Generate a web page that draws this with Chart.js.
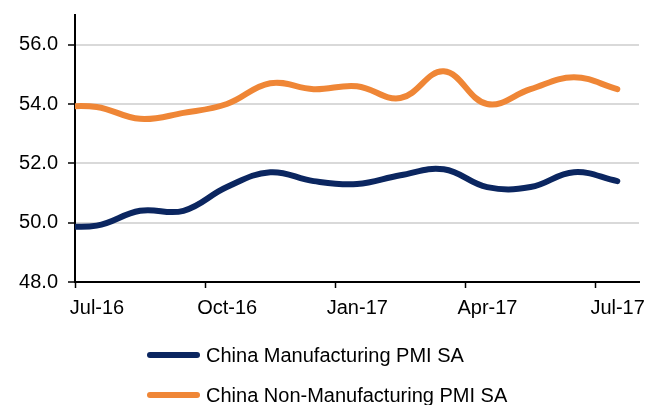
<!DOCTYPE html>
<html>
<head>
<meta charset="utf-8">
<script src="https://cdn.jsdelivr.net/npm/chart.js@4"></script>
<style>
  body { margin: 0; background: #fff; }
  #wrap { position: relative; width: 659px; height: 405px; overflow: hidden; }
  #legend { position: absolute; left: 147px; top: 335px; font: 20px "Liberation Sans", Arial, sans-serif; color: #000; }
  .item { display: flex; align-items: center; height: 40px; white-space: nowrap; }
  .swatch { width: 53px; height: 6px; border-radius: 3px; margin-right: 6px; }
</style>
</head>
<body>
<div id="wrap">
  <canvas id="chart" width="659" height="405"></canvas>
  <div id="legend"></div>
</div>
<script>
// Jun-16 is only visible as the short stub at the left edge of the plot
const months = ["Jun-16", "Jul-16", "Aug-16", "Sep-16", "Oct-16", "Nov-16", "Dec-16",
                "Jan-17", "Feb-17", "Mar-17", "Apr-17", "May-17", "Jun-17", "Jul-17"];
const manufacturing = [49.9, 49.9, 50.4, 50.4, 51.2, 51.7, 51.4, 51.3, 51.6, 51.8, 51.2, 51.2, 51.7, 51.4];
const nonManufacturing = [53.9, 53.9, 53.5, 53.7, 54.0, 54.7, 54.5, 54.6, 54.2, 55.1, 54.0, 54.5, 54.9, 54.5];
const xTickLabels = ["Jul-16", "Oct-16", "Jan-17", "Apr-17", "Jul-17"];
const yTicks = [48, 50, 52, 54, 56];

const seriesNames = ["China Manufacturing PMI SA", "China Non-Manufacturing PMI SA"];
const seriesColors = ["#0b2660", "#ef8636"];

const font = { family: "'Liberation Sans', Arial, sans-serif", size: 20 };

function points(values) {
    return values.map((v, i) => ({ x: i, y: v }));
}

const datasets = [manufacturing, nonManufacturing].map((vals, k) => ({
    label: seriesNames[k],
    data: points(vals),
    borderColor: seriesColors[k],
    backgroundColor: seriesColors[k],
    borderWidth: 6,
    borderCapStyle: "round",
    tension: 0.4,
    pointRadius: 0,
    clip: { left: 0, top: 10, right: 10, bottom: 10 }
}));

new Chart(document.getElementById("chart"), {
    type: "line",
    data: { datasets: datasets },
    options: {
        responsive: false,
        animation: false,
        layout: { padding: { left: 0, top: 15, right: 20, bottom: 83 } },
        plugins: { legend: { display: false }, tooltip: { enabled: false } },
        scales: {
            x: {
                type: "linear",
                min: 0.5,
                max: months.length - 0.5,
                afterBuildTicks: (scale) => {
                    // tick marks sit on the month boundaries, labels under the month
                    scale.ticks = xTickLabels.map(l => ({ value: months.indexOf(l) - 0.5 }));
                },
                afterFit: (scale) => {
                    scale.height = 40;
                    scale.paddingLeft = 0;
                    scale.paddingRight = 0;
                },
                border: { color: "#000", width: 2 },
                grid: { drawOnChartArea: false, tickLength: 6, tickColor: "#000", tickWidth: 1.5 },
                ticks: {
                    font: font,
                    color: "#000",
                    padding: 8,
                    maxRotation: 0,
                    labelOffset: 22,
                    callback: (v) => months[v + 0.5]
                }
            },
            y: {
                min: 48,
                max: 57,
                afterBuildTicks: (scale) => {
                    scale.ticks = yTicks.map(v => ({ value: v }));
                },
                afterFit: (scale) => {
                    scale.width = 75;
                    scale.paddingTop = 0;
                    scale.paddingBottom = 0;
                },
                border: { color: "#000", width: 2 },
                grid: {
                    color: (ctx) => ctx.tick && ctx.tick.value === 48 ? "rgba(0,0,0,0)" : "#d9d9d9",
                    lineWidth: 2,
                    tickLength: 7,
                    tickColor: "#000",
                    tickWidth: 1.5
                },
                ticks: {
                    font: font,
                    color: "#000",
                    padding: 10,
                    callback: (v) => v.toFixed(1)
                }
            }
        }
    }
});

// legend: two rows, left aligned, as in the original
const legend = document.getElementById("legend");
seriesNames.forEach((name, k) => {
    const item = document.createElement("div");
    item.className = "item";
    const sw = document.createElement("span");
    sw.className = "swatch";
    sw.style.background = seriesColors[k];
    const txt = document.createElement("span");
    txt.textContent = name;
    item.appendChild(sw);
    item.appendChild(txt);
    legend.appendChild(item);
});
</script>
</body>
</html>
